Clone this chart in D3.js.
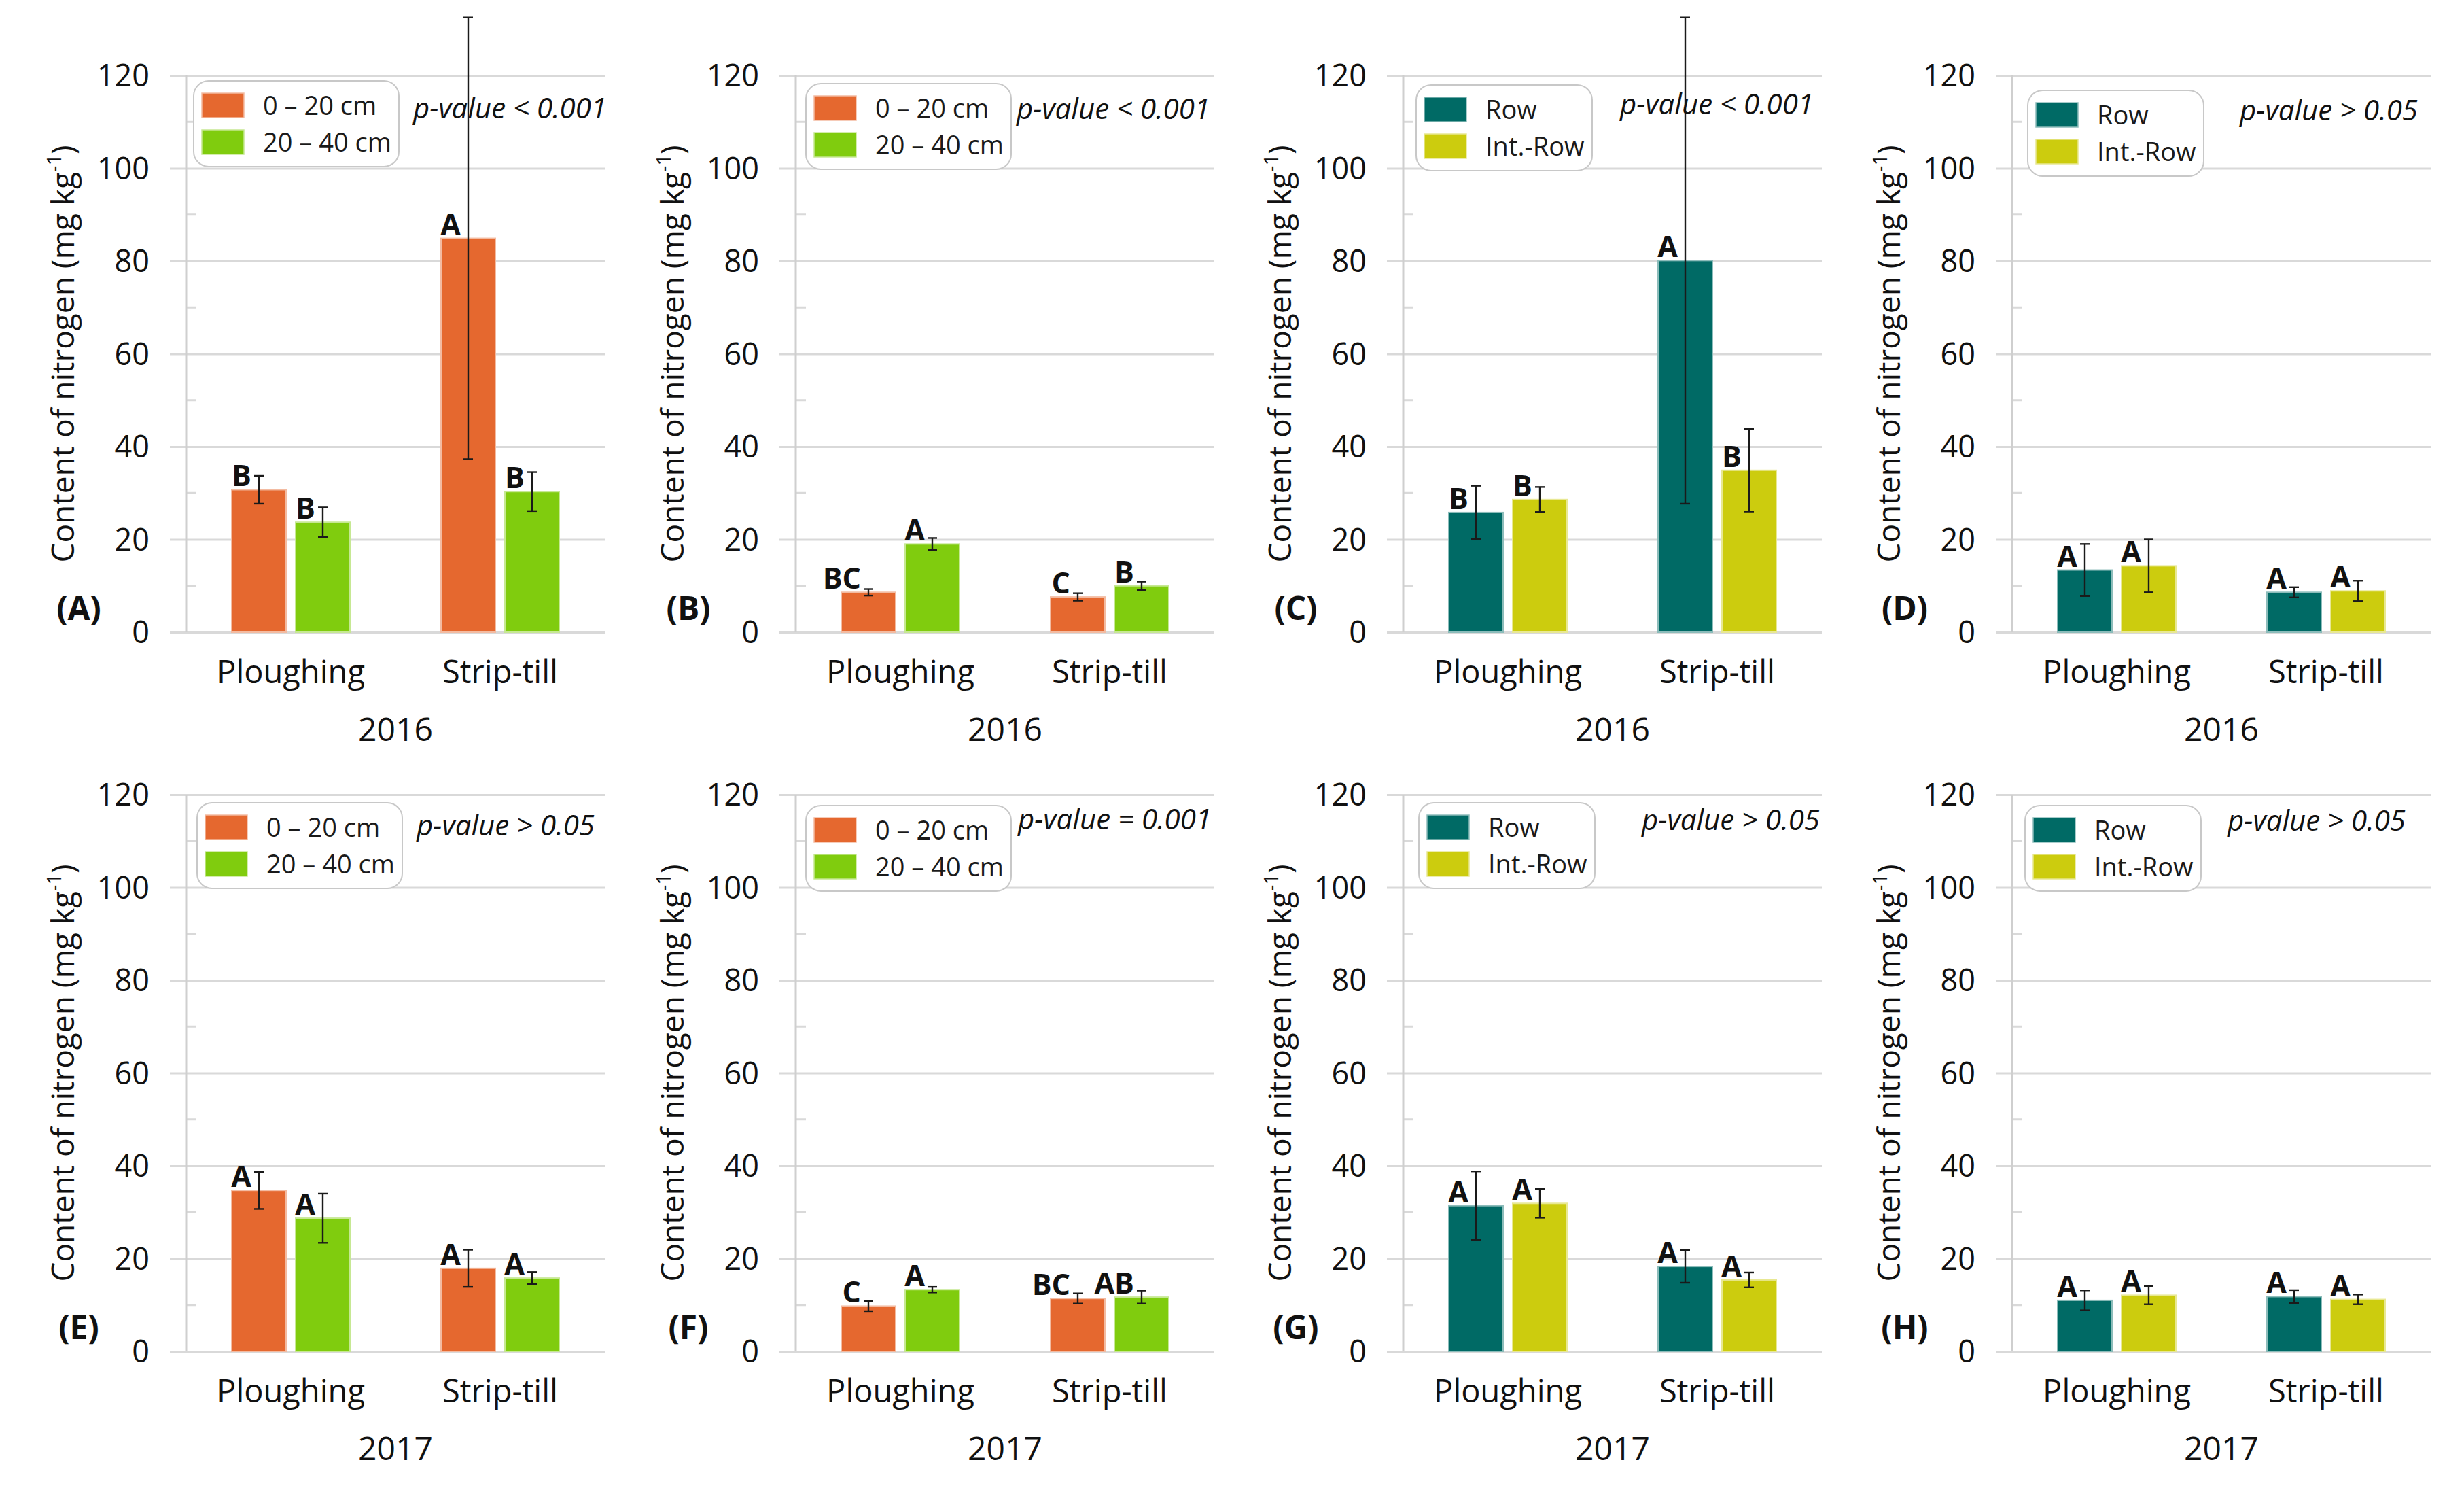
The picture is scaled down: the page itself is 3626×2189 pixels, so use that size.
<!DOCTYPE html>
<html>
<head>
<meta charset="utf-8">
<script src="https://cdn.jsdelivr.net/npm/d3@7"></script>
<style>
  html, body { margin: 0; padding: 0; background: #fff; }
  svg { display: block; font-family: "Open Sans", "DejaVu Sans", sans-serif; }
</style>
</head>
<body>
<script>
// ---------------- DATA ----------------
const categories = ["Ploughing", "Strip-till"];
const depthSeries = ["0 – 20 cm", "20 – 40 cm"];
const rowSeries = ["Row", "Int.-Row"];
const yTicks = [0, 20, 40, 60, 80, 100, 120];
const yMinorTicks = [10, 30, 50, 70, 90, 110];
const panelLabels = ["(A)", "(B)", "(C)", "(D)", "(E)", "(F)", "(G)", "(H)"];
const panelYears = ["2016", "2016", "2016", "2016", "2017", "2017", "2017", "2017"];
const panelKinds = ["depth", "depth", "row", "row", "depth", "depth", "row", "row"];
const pValues = ["p-value < 0.001", "p-value < 0.001", "p-value < 0.001", "p-value > 0.05",
                 "p-value > 0.05", "p-value = 0.001", "p-value > 0.05", "p-value > 0.05"];
// values per panel: [Ploughing s1, Ploughing s2, Strip-till s1, Strip-till s2]
const panelMeans = [
  [30.7, 23.7, 84.9, 30.3],
  [8.6, 19.0, 7.6, 10.0],
  [25.8, 28.6, 80.1, 34.9],
  [13.4, 14.3, 8.6, 8.9],
  [34.7, 28.7, 17.9, 15.8],
  [9.75, 13.3, 11.4, 11.7],
  [31.4, 31.9, 18.3, 15.4],
  [11.0, 12.1, 11.8, 11.2]
];
const panelErrors = [
  [3.0, 3.2, 47.6, 4.2],
  [0.7, 1.3, 0.8, 0.9],
  [5.75, 2.7, 52.4, 8.9],
  [5.6, 5.7, 1.1, 2.2],
  [4.0, 5.3, 4.0, 1.3],
  [1.1, 0.6, 1.1, 1.4],
  [7.4, 3.1, 3.5, 1.6],
  [2.15, 1.95, 1.4, 1.05]
];
const panelLetters = [
  ["B", "B", "A", "B"],
  ["BC", "A", "C", "B"],
  ["B", "B", "A", "B"],
  ["A", "A", "A", "A"],
  ["A", "A", "A", "A"],
  ["C", "A", "BC", "AB"],
  ["A", "A", "A", "A"],
  ["A", "A", "A", "A"]
];

// ---------------- STYLE / LAYOUT ----------------
const W = 3626, H = 2189;
const depthColors = ["#E5682F", "#80CC0E"];
const rowColors = ["#006A65", "#CCCC0E"];
const colX = [274, 1171, 2065, 2961];     // y-axis x positions
const rowTop = [111, 1169];               // y of value 120
const rowBottom = [930, 1988];            // y of value 0
const plotW = 616;
const legendOffX = [11, 15, 19, 23, 16, 15, 23, 19];
const legendOffY = [8, 12, 14, 22, 12, 16, 12, 16];
const pOffX = [3, -6, -12, -19, -15, -4, -3, -37];
const pOffY = [63, 64, 57, 66, 60, 51, 52, 53];
const FONT_TICK = 45, FONT_TITLE = 46, FONT_CAT = 47, FONT_YEAR = 48, FONT_LEG = 38, FONT_P = 42, FONT_LET = 43, FONT_PANEL = 48;

const svg = d3.select("body").append("svg")
  .attr("width", W).attr("height", H).attr("viewBox", `0 0 ${W} ${H}`);
svg.append("rect").attr("width", W).attr("height", H).attr("fill", "#fff");

panelLabels.forEach((lab, p) => {
  const col = p % 4, row = Math.floor(p / 4);
  const x0 = colX[col];
  const g = svg.append("g");
  const y = d3.scaleLinear().domain([0, 120]).range([rowBottom[row], rowTop[row]]);
  const x = d3.scaleBand().domain(categories).range([x0, x0 + plotW]).padding(0);
  const groupW = 174;
  const xs = d3.scaleBand().domain([0, 1]).range([0, groupW]).paddingInner(14 / 94).paddingOuter(0);
  const colors = panelKinds[p] === "depth" ? depthColors : rowColors;
  const series = panelKinds[p] === "depth" ? depthSeries : rowSeries;

  // gridlines (major) via axis
  const yAxis = d3.axisLeft(y).tickValues(yTicks).tickSize(-(plotW + 24)).tickFormat(d3.format("d")).tickPadding(0);
  const ag = g.append("g").attr("transform", `translate(${x0 + plotW},0)`).call(yAxis);
  ag.select(".domain").remove();
  ag.selectAll(".tick line").attr("stroke", "#d9d9d9").attr("stroke-width", 3).attr("x1", 0).attr("x2", -(plotW + 24));
  ag.selectAll(".tick text").remove();
  // tick labels
  g.selectAll(".ylab").data(yTicks).enter().append("text")
    .attr("x", x0 - 54).attr("y", d => y(d)).attr("dy", "0.36em")
    .attr("text-anchor", "end").attr("font-size", FONT_TICK).attr("fill", "#111")
    .text(d => d);
  // minor ticks
  g.selectAll(".minor").data(yMinorTicks).enter().append("line")
    .attr("x1", x0).attr("x2", x0 + 15).attr("y1", d => y(d)).attr("y2", d => y(d))
    .attr("stroke", "#d9d9d9").attr("stroke-width", 3);
  // y axis line
  g.append("line").attr("x1", x0).attr("x2", x0).attr("y1", y(0)).attr("y2", y(120))
    .attr("stroke", "#cfcfcf").attr("stroke-width", 3);

  // bars
  const recs = [];
  categories.forEach((c, ci) => {
    [0, 1].forEach(si => {
      const k = ci * 2 + si;
      const bx = x(c) + (x.bandwidth() - groupW) / 2 + xs(si);
      recs.push({ c, si, k, bx, v: panelMeans[p][k], e: panelErrors[p][k], l: panelLetters[p][k] });
    });
  });
  const bw = xs.bandwidth();
  g.selectAll(".bar").data(recs).enter().append("rect")
    .attr("x", d => d.bx).attr("width", bw)
    .attr("y", d => y(d.v)).attr("height", d => y(0) - y(d.v))
    .attr("fill", d => colors[d.si])
    .attr("stroke", d => d3.interpolateRgb(colors[d.si], "#ffffff")(0.55))
    .attr("stroke-width", 2);
  // error bars
  const eg = g.selectAll(".err").data(recs).enter().append("g").attr("stroke", "#1a1a1a").attr("stroke-width", 2.4);
  eg.append("line").attr("x1", d => d.bx + bw / 2).attr("x2", d => d.bx + bw / 2)
    .attr("y1", d => y(d.v - d.e)).attr("y2", d => y(d.v + d.e));
  eg.append("line").attr("x1", d => d.bx + bw / 2 - 7).attr("x2", d => d.bx + bw / 2 + 7)
    .attr("y1", d => y(d.v + d.e)).attr("y2", d => y(d.v + d.e));
  eg.append("line").attr("x1", d => d.bx + bw / 2 - 7).attr("x2", d => d.bx + bw / 2 + 7)
    .attr("y1", d => y(d.v - d.e)).attr("y2", d => y(d.v - d.e));
  // letters
  g.selectAll(".let").data(recs).enter().append("text")
    .attr("x", d => d.bx + bw / 2 - 11).attr("y", d => y(d.v) - 5)
    .attr("text-anchor", "end").attr("font-size", FONT_LET).attr("font-weight", "bold").attr("fill", "#111")
    .text(d => d.l);

  // category labels
  const xAxis = d3.axisBottom(x).tickSize(0).tickPadding(0);
  const xg = g.append("g").attr("transform", `translate(0,${y(0)})`).call(xAxis);
  xg.select(".domain").remove();
  xg.selectAll(".tick text").attr("y", 75).attr("dy", 0)
    .attr("font-size", FONT_CAT).attr("font-family", "Open Sans").attr("fill", "#111");
  // year
  g.append("text").attr("x", x0 + plotW / 2).attr("y", y(0) + 160)
    .attr("text-anchor", "middle").attr("font-size", FONT_YEAR).attr("fill", "#111").text(panelYears[p]);
  // y title
  const yt = g.append("text")
    .attr("transform", `translate(${x0 - 182},${(y(0) + y(120)) / 2}) rotate(-90)`)
    .attr("text-anchor", "middle").attr("dy", "0.36em").attr("font-size", FONT_TITLE).attr("fill", "#111");
  yt.append("tspan").text("Content of nitrogen (mg kg");
  yt.append("tspan").attr("baseline-shift", "super").attr("font-size", 29).text("-1");
  yt.append("tspan").text(")");
  // panel label
  g.append("text").attr("x", x0 - 158).attr("y", y(0) - 35).attr("dy", "0.36em")
    .attr("text-anchor", "middle").attr("font-size", FONT_PANEL).attr("font-weight", "bold").attr("fill", "#111")
    .text(lab);

  // legend
  const lw = panelKinds[p] === "depth" ? 302 : 259;
  const lx = x0 + legendOffX[p], ly = y(120) + legendOffY[p];
  const lg = g.append("g").attr("transform", `translate(${lx},${ly})`);
  lg.append("rect").attr("width", lw).attr("height", 126).attr("rx", 22).attr("ry", 22)
    .attr("fill", "#fff").attr("stroke", "#c8c8c8").attr("stroke-width", 2);
  const li = lg.selectAll(".li").data(series).enter().append("g")
    .attr("transform", (d, i) => `translate(12,${18 + i * 54})`);
  li.append("rect").attr("width", 62).attr("height", 36).attr("fill", (d, i) => colors[i])
    .attr("stroke", (d, i) => d3.interpolateRgb(colors[i], "#ffffff")(0.55)).attr("stroke-width", 1.5);
  li.append("text").attr("x", 90).attr("y", 18).attr("dy", "0.36em")
    .attr("font-size", FONT_LEG).attr("fill", "#1a1a1a").text(d => d);

  // p-value
  g.append("text").attr("x", x0 + plotW + pOffX[p]).attr("y", y(120) + pOffY[p])
    .attr("text-anchor", "end").attr("font-size", FONT_P).attr("font-style", "italic").attr("fill", "#111")
    .text(pValues[p]);
});
</script>
</body>
</html>
